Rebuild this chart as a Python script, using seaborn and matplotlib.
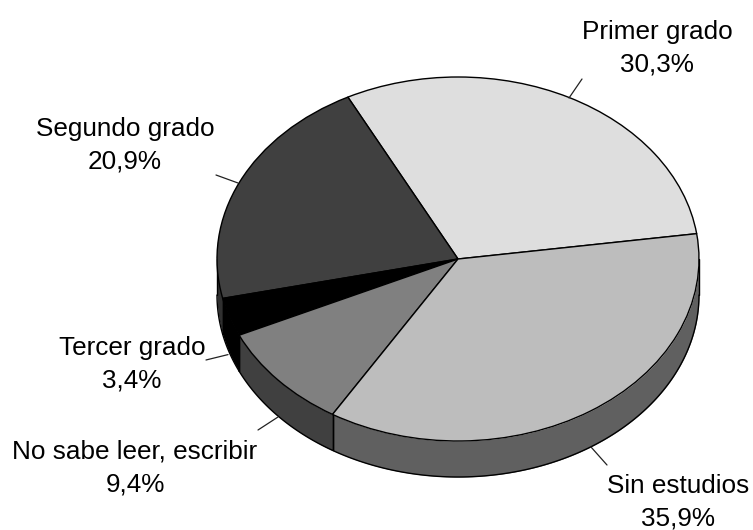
import matplotlib

matplotlib.use("Agg")
import matplotlib.pyplot as plt
import numpy as np
import seaborn as sns

categories = ["Primer grado", "Segundo grado", "Tercer grado", "No sabe leer, escribir", "Sin estudios"]
shares = [30.3, 20.9, 3.4, 9.4, 35.9]
share_labels = ["30,3%", "20,9%", "3,4%", "9,4%", "35,9%"]
top_colors = ["#dedede", "#404040", "#000000", "#808080", "#bdbdbd"]
side_colors = ["#6e6e6e", "#303030", "#000000", "#404040", "#606060"]

# pixel layout of the reference
W, H = 753, 530
CX, CY, RX, RY = 458, 259, 241, 182
DEPTH = 36 / RY
START = 8

label_xy = [(657, 48), (125, 145), (132, 364), (135, 468), (678, 502)]
leader_from = [(582, 79), (216, 175), (206, 360), (258, 430), (607, 465)]
leader_to = [(569, 98), (238, 183), (228, 354.6), (278, 417), (591, 447)]


def px(x, y):
    return (x - CX) / RX, (CY - y) / RY


sns.set_theme(style="white")
plt.rcParams["font.family"] = ["Liberation Sans", "DejaVu Sans"]

fig = plt.figure(figsize=(W / 100, H / 100), dpi=100)
ax = fig.add_axes([0, 0, 1, 1])

# side wall first, only the front half of the pie shows it
edges = START + np.cumsum([0] + shares) * 360 / sum(shares)
for i, color in enumerate(side_colors):
    for lo, hi in [(edges[i], edges[i + 1]), (edges[i] - 360, edges[i + 1] - 360)]:
        lo, hi = max(lo, 180), min(hi, 360)
        if hi <= lo:
            continue
        t = np.radians(np.linspace(lo, hi, 120))
        ax.fill_between(np.cos(t), np.sin(t), np.sin(t) - DEPTH, color=color, linewidth=0, zorder=1)
        ax.plot(np.cos(t), np.sin(t) - DEPTH, color="black", lw=1, zorder=2)
        for a in (lo, hi):
            r = np.radians(a)
            ax.plot([np.cos(r)] * 2, [np.sin(r), np.sin(r) - DEPTH], color="black", lw=1, zorder=2)

wedges, _ = ax.pie(
    shares,
    colors=top_colors,
    startangle=START,
    counterclock=True,
    wedgeprops={"edgecolor": "black", "linewidth": 1, "zorder": 3},
)

ax.set_aspect("auto")
ax.set_xlim(-CX / RX, (W - CX) / RX)
ax.set_ylim((CY - H) / RY, CY / RY)
ax.axis("off")

for name, share, xy, a, b in zip(categories, share_labels, label_xy, leader_from, leader_to):
    x, y = px(*xy)
    ax.text(x, y, f"{name}\n{share}", ha="center", va="center", fontsize=18.8, color="black", linespacing=1.45, zorder=5)
    xa, ya = px(*a)
    xb, yb = px(*b)
    ax.plot([xa, xb], [ya, yb], color="#222222", lw=0.9, zorder=4)

fig.savefig("out.png", dpi=100)
